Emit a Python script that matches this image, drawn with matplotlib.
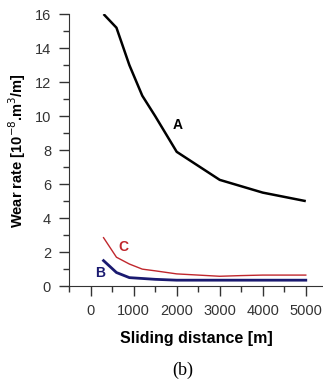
import matplotlib
matplotlib.use('agg')
import matplotlib.pyplot as plt
from matplotlib.ticker import MultipleLocator

plt.rcParams['font.family'] = ['Liberation Sans', 'DejaVu Sans']

# sliding distance [m] and wear rate [1e-8 m^3/m]
dist_a = [300, 600, 900, 1200, 1500, 2000, 3000, 4000, 5000]
wear_a = [16.0, 15.2, 13.0, 11.2, 10.0, 7.9, 6.25, 5.5, 5.0]

dist_b = [300, 600, 900, 1200, 1500, 2000, 3000, 4000, 5000]
wear_b = [1.5, 0.8, 0.5, 0.45, 0.4, 0.35, 0.35, 0.35, 0.35]

dist_c = [300, 600, 900, 1200, 1500, 2000, 2500, 3000, 3500, 4000, 5000]
wear_c = [2.85, 1.7, 1.3, 1.0, 0.9, 0.72, 0.65, 0.58, 0.62, 0.65, 0.65]

fig = plt.figure(figsize=(3.23, 3.81), dpi=100)
ax = fig.add_axes([0.214, 0.249, 0.786, 0.714])

ax.plot(dist_a, wear_a, color='black', lw=1.8, solid_capstyle='butt')
ax.plot(dist_c, wear_c, color='#c0272d', lw=1.0)
ax.plot(dist_b, wear_b, color='#1a1a70', lw=2.0)

ax.text(2030, 9.5, 'A', fontsize=10, fontweight='bold', color='black', ha='center', va='center')
ax.text(750, 2.3, 'C', fontsize=10, fontweight='bold', color='#c0272d', ha='center', va='center')
ax.text(230, 0.75, 'B', fontsize=10, fontweight='bold', color='#1a1a70', ha='center', va='center')

ax.set_xlim(-500, 5400)
ax.set_ylim(0, 16)
ax.xaxis.set_major_locator(MultipleLocator(1000))
ax.xaxis.set_minor_locator(MultipleLocator(500))
ax.yaxis.set_major_locator(MultipleLocator(2))
ax.yaxis.set_minor_locator(MultipleLocator(1))
ax.tick_params(which='major', direction='out', length=7, width=1, labelsize=10.5, colors='#333333', pad=6)
ax.tick_params(which='minor', direction='out', length=4, width=1, colors='#333333')
ax.tick_params(axis='y', which='major', pad=6)

for side in ['top', 'right']:
    ax.spines[side].set_visible(False)
for side in ['left', 'bottom']:
    ax.spines[side].set_color('#333333')

ax.set_xlabel('Sliding distance [m]', fontsize=11.5, fontweight='bold', labelpad=9)
ax.set_ylabel('Wear rate [10$^{-8}$.m$^{3}$/m]', fontsize=10.5, fontweight='bold', labelpad=5)

fig.text(0.565, 0.029, '(b)', fontsize=13, family='Liberation Serif', ha='center', va='center')

fig.savefig('out.png', dpi=100)
